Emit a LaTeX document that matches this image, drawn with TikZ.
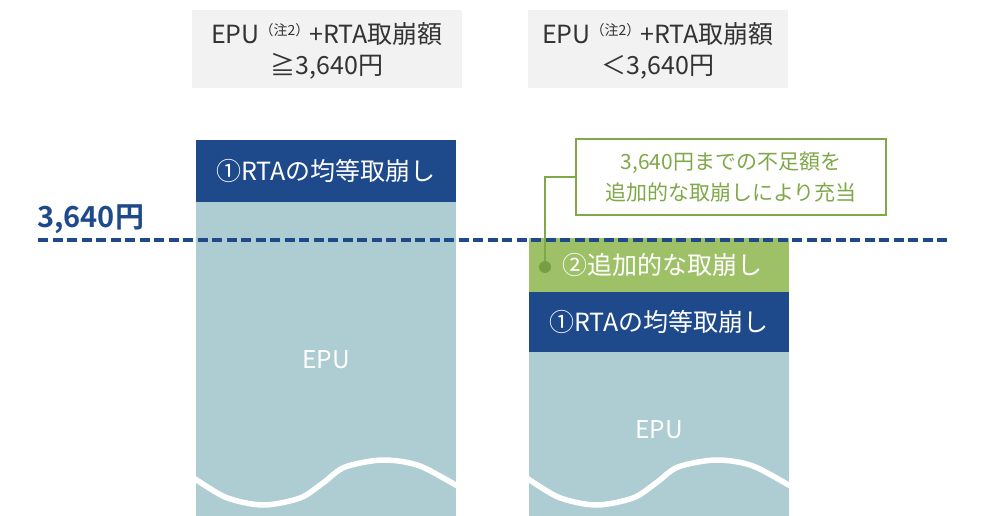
\documentclass[tikz,border=0pt]{standalone}
\usepackage{fontspec}
\setmainfont{Noto Sans CJK JP}
\newfontfamily\jpbold{Noto Sans CJK JP Bold}
\definecolor{hdrgray}{RGB}{242,242,242}
\definecolor{txtgray}{RGB}{51,51,51}
\definecolor{navy}{RGB}{30,73,138}
\definecolor{teal}{RGB}{174,205,211}
\definecolor{gbox}{RGB}{158,193,104}
\definecolor{gline}{RGB}{128,168,72}
\definecolor{gdot}{RGB}{118,158,66}
\tikzset{
  hdr/.style={fill=hdrgray, minimum width=270pt, minimum height=78pt, inner sep=0pt, align=center,
    text=txtgray, font=\fontsize{25}{31}\selectfont},
  hdrtxt/.style={inner sep=0pt, align=center, text=txtgray, font=\fontsize{25}{31}\selectfont},
  bluebox/.style={fill=navy, minimum width=260pt, minimum height=62pt, inner sep=0pt, text=white,
    font=\fontsize{25}{28}\selectfont},
  greenbox/.style={fill=gbox, minimum width=260pt, minimum height=54pt, inner sep=0pt, text=white,
    font=\fontsize{25}{28}\selectfont},
  epubox/.style={fill=teal, minimum width=260pt, inner sep=0pt},
  epulbl/.style={text=white, font=\fontsize{24.5}{28}\selectfont},
  wave/.style={draw=white, line width=5.5pt},
  callout/.style={draw=gline, line width=2.5pt, fill=white, minimum width=310pt, minimum height=76pt,
    inner sep=0pt, align=center, text=gline, font=\fontsize{21}{31}\selectfont},
  conn/.style={draw=gline, line width=2pt},
  gdotst/.style={circle, fill=gdot, minimum size=12pt, inner sep=0pt},
  lvl/.style={draw=navy, line width=4pt, dash pattern=on 10pt off 4.5pt},
}
\newcommand{\chu}{{\fontsize{14}{14}\selectfont\raisebox{8pt}{（注2）}}}
\begin{document}
\begin{tikzpicture}[x=1pt,y=-1pt]
\useasboundingbox (0,0) rectangle (988,516);
% headers
\node[hdr] (h1) at (327,49) {};
\node[hdrtxt] (h1t) at (327,51) {EPU\chu+RTA取崩額\\≧3,640円};
\node[hdr, minimum width=260pt] (h2) at (658,49) {};
\node[hdrtxt] (h2t) at (658,51) {EPU\chu+RTA取崩額\\＜3,640円};
% left column
\node[epubox, minimum height=314pt] (e1) at (326,359) {};
\begin{scope}
\clip (196,202) rectangle (456,516);
\draw[wave] plot[smooth] coordinates {(188,474)(225,497)(263,505)(300,498)(323,483)(345,467)(383,460)(420,466)(464,490)};
\end{scope}
\node[epulbl] (t1) at (326,360) {EPU};
\node[bluebox] (b1) at (326,171) {①RTAの均等取崩し};
% right column
\node[epubox, minimum height=164pt] (e2) at (659,434) {};
\begin{scope}
\clip (529,352) rectangle (789,516);
\draw[wave] plot[smooth] coordinates {(521,474)(558,497)(596,505)(633,498)(656,483)(678,467)(716,460)(753,466)(797,490)};
\end{scope}
\node[epulbl] (t2) at (659,430) {EPU};
\node[bluebox, minimum height=60pt] (b2) at (659,322) {①RTAの均等取崩し};
\node[greenbox] (g2) at (659,265) {\hspace{6pt}②追加的な取崩し};
% level line
\coordinate (l0) at (38,240);
\coordinate (l1) at (948,240);
\draw[lvl] (l0) -- (l1);
\node[anchor=west, inner sep=0pt, text=navy, font=\jpbold\fontsize{29}{32}\selectfont] (lvlbl) at (37,219) {3,640円};
% callout
\node[callout] (co) at (731,177) {3,640円までの不足額を\\追加的な取崩しにより充当};
\node[gdotst] (dot) at (545,267) {};
\draw[conn] (co.west) -| (dot);
\end{tikzpicture}
\end{document}
